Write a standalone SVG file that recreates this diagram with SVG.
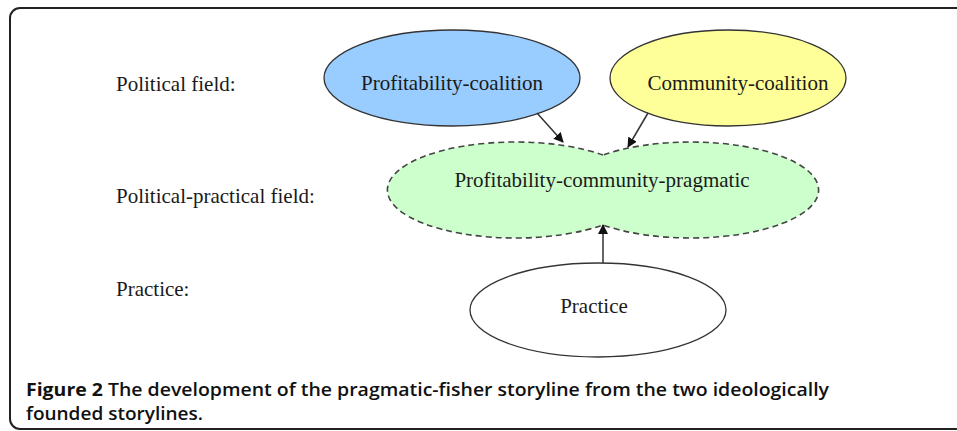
<svg xmlns="http://www.w3.org/2000/svg" width="957" height="431" viewBox="0 0 957 431">
  <style>
    .lbl { font-family: "Liberation Serif", "Times New Roman", serif; font-size: 21px; fill: #1a1a1a; }
    .node { stroke: #333; stroke-width: 1.3; }
    .edge { stroke: #333; stroke-width: 1.5; fill: none; marker-end: url(#arr); }
    .cap { font-family: "Open Sans", "Liberation Sans", sans-serif; font-size: 18px; fill: #111; }
  </style>
  <defs>
    <marker id="arr" viewBox="0 0 10 10" refX="9" refY="5" markerWidth="10" markerHeight="10" markerUnits="userSpaceOnUse" orient="auto">
      <path d="M0,0 L10,5 L0,10 Z" fill="#111"/>
    </marker>
  </defs>
  <rect x="10" y="8" width="980" height="421" rx="10" ry="10" fill="#fff" stroke="#222" stroke-width="2"/>

  <text class="lbl" x="116" y="91">Political field:</text>
  <text class="lbl" x="116" y="203">Political-practical field:</text>
  <text class="lbl" x="116" y="296">Practice:</text>

  <g id="profitability-coalition">
    <ellipse class="node" cx="452" cy="78" rx="128" ry="48" fill="#99ccff"/>
    <text class="lbl" x="452" y="90" text-anchor="middle">Profitability-coalition</text>
  </g>
  <g id="community-coalition">
    <ellipse class="node" cx="728" cy="78" rx="118" ry="48" fill="#ffff99"/>
    <text class="lbl" x="738" y="90" text-anchor="middle">Community-coalition</text>
  </g>
  <g id="profitability-community-pragmatic">
    <path d="M603,155 A128,48 0 1 0 603,225 A128,48 0 1 0 603,155 Z" fill="#ccffcc" stroke="#444" stroke-width="1.6" stroke-dasharray="6,4"/>
    <text class="lbl" x="602" y="187" text-anchor="middle">Profitability-community-pragmatic</text>
  </g>
  <g id="practice">
    <ellipse class="node" cx="598" cy="310" rx="128" ry="47" fill="#fff"/>
    <text class="lbl" x="594" y="313" text-anchor="middle">Practice</text>
  </g>

  <g id="connectors">
    <line class="edge" x1="537" y1="113" x2="563" y2="142"/>
    <line class="edge" x1="648" y1="113" x2="628" y2="147"/>
    <line class="edge" x1="603" y1="263" x2="603" y2="225"/>
  </g>

  <text class="cap" x="26" y="396" textLength="803" lengthAdjust="spacingAndGlyphs"><tspan font-weight="700">Figure 2</tspan><tspan font-weight="600"> The development of the pragmatic-fisher storyline from the two ideologically</tspan></text>
  <text class="cap" x="26" y="420" font-weight="600" textLength="177" lengthAdjust="spacingAndGlyphs">founded storylines.</text>
</svg>
